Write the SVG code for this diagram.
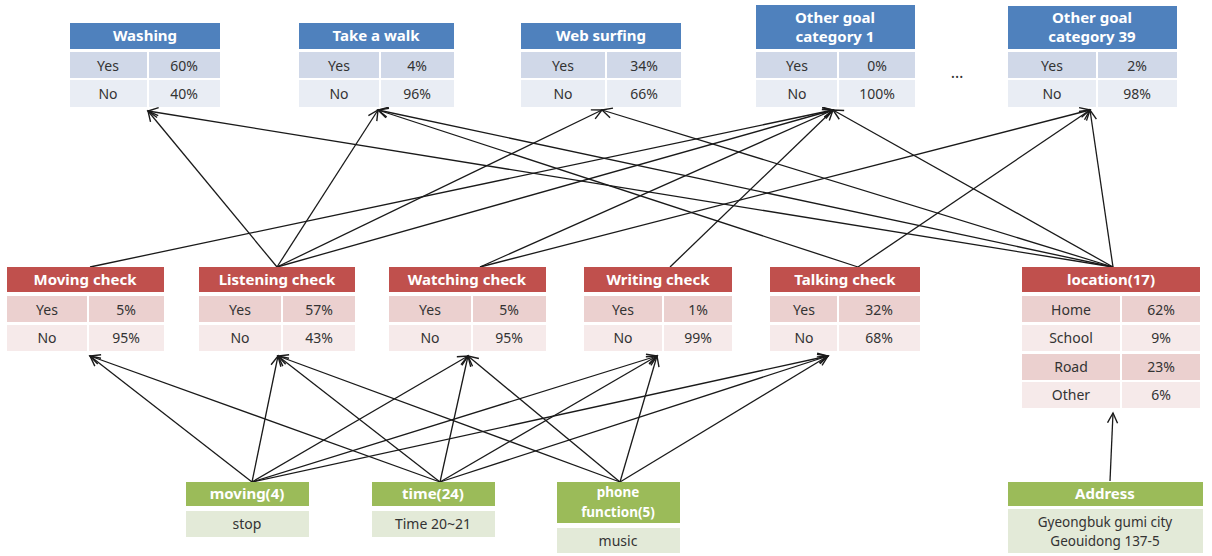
<svg xmlns="http://www.w3.org/2000/svg" width="1212" height="556" viewBox="0 0 1212 556">
<defs>
<style>
.bh{fill:#4F81BD}.by{fill:#D0D8E8}.bn{fill:#E9EDF4}
.rh{fill:#C0504D}.ry{fill:#EBD0CF}.rn{fill:#F6EAEA}
.gh{fill:#9BBB59}.gv{fill:#E3EAD8}
text{font-family:"Noto Sans","Liberation Sans",sans-serif;text-anchor:middle}
.ht{fill:#fff;font-weight:bold;font-size:15px}
.ct{fill:#333;font-size:14px}
.sm{font-size:13.5px}
.cn line{stroke:#1a1a1a;stroke-width:1.3;marker-end:url(#ah)}
</style>
<marker id="ah" markerUnits="userSpaceOnUse" markerWidth="14" markerHeight="14" refX="11" refY="6" orient="auto">
<path d="M1,1 L11,6 L1,11" fill="none" stroke="#1a1a1a" stroke-width="1.4"/>
</marker>
</defs>
<rect width="1212" height="556" fill="#fff"/>

<g class="cn" id="connectors">
<line x1="90" y1="267" x2="833" y2="110"/>
<line x1="277" y1="267" x2="148" y2="111"/>
<line x1="277" y1="267" x2="378" y2="110"/>
<line x1="277" y1="267" x2="602" y2="110"/>
<line x1="277" y1="267" x2="833" y2="110"/>
<line x1="480" y1="267" x2="833" y2="110"/>
<line x1="480" y1="267" x2="1090" y2="110"/>
<line x1="670" y1="267" x2="833" y2="110"/>
<line x1="858" y1="267" x2="378" y2="110"/>
<line x1="858" y1="267" x2="1090" y2="110"/>
<line x1="1113" y1="267" x2="148" y2="111"/>
<line x1="1113" y1="267" x2="378" y2="110"/>
<line x1="1113" y1="267" x2="602" y2="110"/>
<line x1="1113" y1="267" x2="833" y2="110"/>
<line x1="1113" y1="267" x2="1090" y2="110"/>
<line x1="252" y1="482" x2="90" y2="356"/>
<line x1="252" y1="482" x2="278" y2="356"/>
<line x1="252" y1="482" x2="468" y2="356"/>
<line x1="252" y1="482" x2="657" y2="356"/>
<line x1="252" y1="482" x2="828" y2="356"/>
<line x1="440" y1="482" x2="90" y2="356"/>
<line x1="440" y1="482" x2="278" y2="356"/>
<line x1="440" y1="482" x2="468" y2="356"/>
<line x1="440" y1="482" x2="657" y2="356"/>
<line x1="440" y1="482" x2="828" y2="356"/>
<line x1="620" y1="482" x2="278" y2="356"/>
<line x1="620" y1="482" x2="468" y2="356"/>
<line x1="620" y1="482" x2="657" y2="356"/>
<line x1="620" y1="482" x2="828" y2="356"/>
<line x1="1110" y1="481" x2="1113" y2="413"/>
</g>

<g id="washing">
<rect class="bh" x="70" y="23" width="150" height="26"/>
<text class="ht" x="145" y="41">Washing</text>
<rect class="by" x="70" y="52" width="77" height="26"/><rect class="by" x="149" y="52" width="71" height="26"/>
<rect class="bn" x="70" y="80" width="77" height="27"/><rect class="bn" x="149" y="80" width="71" height="27"/>
<text class="ct" x="108" y="71">Yes</text><text class="ct" x="184" y="71">60%</text>
<text class="ct" x="108" y="99">No</text><text class="ct" x="184" y="99">40%</text>
</g>

<g id="take-a-walk">
<rect class="bh" x="299" y="23" width="155" height="26"/>
<text class="ht" x="376" y="41">Take a walk</text>
<rect class="by" x="299" y="52" width="80" height="26"/><rect class="by" x="381" y="52" width="73" height="26"/>
<rect class="bn" x="299" y="80" width="80" height="27"/><rect class="bn" x="381" y="80" width="73" height="27"/>
<text class="ct" x="339" y="71">Yes</text><text class="ct" x="417" y="71">4%</text>
<text class="ct" x="339" y="99">No</text><text class="ct" x="417" y="99">96%</text>
</g>

<g id="web-surfing">
<rect class="bh" x="521" y="23" width="160" height="26"/>
<text class="ht" x="601" y="41">Web surfing</text>
<rect class="by" x="521" y="52" width="84" height="26"/><rect class="by" x="607" y="52" width="74" height="26"/>
<rect class="bn" x="521" y="80" width="84" height="27"/><rect class="bn" x="607" y="80" width="74" height="27"/>
<text class="ct" x="563" y="71">Yes</text><text class="ct" x="644" y="71">34%</text>
<text class="ct" x="563" y="99">No</text><text class="ct" x="644" y="99">66%</text>
</g>

<g id="other-goal-1">
<rect class="bh" x="756" y="5" width="159" height="44"/>
<text class="ht" x="835" y="23">Other goal</text>
<text class="ht" x="835" y="42">category 1</text>
<rect class="by" x="756" y="52" width="81" height="26"/><rect class="by" x="839" y="52" width="76" height="26"/>
<rect class="bn" x="756" y="80" width="81" height="27"/><rect class="bn" x="839" y="80" width="76" height="27"/>
<text class="ct" x="797" y="71">Yes</text><text class="ct" x="877" y="71">0%</text>
<text class="ct" x="797" y="99">No</text><text class="ct" x="877" y="99">100%</text>
</g>

<text class="ct" x="957" y="78" style="font-size:16px">…</text>

<g id="other-goal-39">
<rect class="bh" x="1008" y="6" width="169" height="43"/>
<text class="ht" x="1092" y="23">Other goal</text>
<text class="ht" x="1092" y="42">category 39</text>
<rect class="by" x="1008" y="52" width="88" height="26"/><rect class="by" x="1098" y="52" width="79" height="26"/>
<rect class="bn" x="1008" y="80" width="88" height="27"/><rect class="bn" x="1098" y="80" width="79" height="27"/>
<text class="ct" x="1052" y="71">Yes</text><text class="ct" x="1137" y="71">2%</text>
<text class="ct" x="1052" y="99">No</text><text class="ct" x="1137" y="99">98%</text>
</g>

<g id="moving-check">
<rect class="rh" x="7" y="267" width="157" height="25"/>
<text class="ht" x="85" y="285">Moving check</text>
<rect class="ry" x="7" y="296" width="80" height="26"/><rect class="ry" x="89" y="296" width="75" height="26"/>
<rect class="rn" x="7" y="325" width="80" height="26"/><rect class="rn" x="89" y="325" width="75" height="26"/>
<text class="ct" x="47" y="315">Yes</text><text class="ct" x="126" y="315">5%</text>
<text class="ct" x="47" y="343">No</text><text class="ct" x="126" y="343">95%</text>
</g>

<g id="listening-check">
<rect class="rh" x="199" y="267" width="156" height="25"/>
<text class="ht" x="277" y="285">Listening check</text>
<rect class="ry" x="199" y="296" width="82" height="26"/><rect class="ry" x="283" y="296" width="72" height="26"/>
<rect class="rn" x="199" y="325" width="82" height="26"/><rect class="rn" x="283" y="325" width="72" height="26"/>
<text class="ct" x="240" y="315">Yes</text><text class="ct" x="319" y="315">57%</text>
<text class="ct" x="240" y="343">No</text><text class="ct" x="319" y="343">43%</text>
</g>

<g id="watching-check">
<rect class="rh" x="389" y="267" width="157" height="25"/>
<text class="ht" x="467" y="285">Watching check</text>
<rect class="ry" x="389" y="296" width="82" height="26"/><rect class="ry" x="473" y="296" width="73" height="26"/>
<rect class="rn" x="389" y="325" width="82" height="26"/><rect class="rn" x="473" y="325" width="73" height="26"/>
<text class="ct" x="430" y="315">Yes</text><text class="ct" x="509" y="315">5%</text>
<text class="ct" x="430" y="343">No</text><text class="ct" x="509" y="343">95%</text>
</g>

<g id="writing-check">
<rect class="rh" x="584" y="267" width="148" height="25"/>
<text class="ht" x="658" y="285">Writing check</text>
<rect class="ry" x="584" y="296" width="78" height="26"/><rect class="ry" x="664" y="296" width="68" height="26"/>
<rect class="rn" x="584" y="325" width="78" height="26"/><rect class="rn" x="664" y="325" width="68" height="26"/>
<text class="ct" x="623" y="315">Yes</text><text class="ct" x="698" y="315">1%</text>
<text class="ct" x="623" y="343">No</text><text class="ct" x="698" y="343">99%</text>
</g>

<g id="talking-check">
<rect class="rh" x="770" y="267" width="150" height="25"/>
<text class="ht" x="845" y="285">Talking check</text>
<rect class="ry" x="770" y="296" width="67" height="26"/><rect class="ry" x="839" y="296" width="81" height="26"/>
<rect class="rn" x="770" y="325" width="67" height="26"/><rect class="rn" x="839" y="325" width="81" height="26"/>
<text class="ct" x="804" y="315">Yes</text><text class="ct" x="879" y="315">32%</text>
<text class="ct" x="804" y="343">No</text><text class="ct" x="879" y="343">68%</text>
</g>

<g id="location">
<rect class="rh" x="1022" y="267" width="178" height="25"/>
<text class="ht" x="1111" y="285">location(17)</text>
<rect class="ry" x="1022" y="296" width="98" height="26"/><rect class="ry" x="1122" y="296" width="78" height="26"/>
<rect class="rn" x="1022" y="325" width="98" height="26"/><rect class="rn" x="1122" y="325" width="78" height="26"/>
<rect class="ry" x="1022" y="354" width="98" height="26"/><rect class="ry" x="1122" y="354" width="78" height="26"/>
<rect class="rn" x="1022" y="382" width="98" height="26"/><rect class="rn" x="1122" y="382" width="78" height="26"/>
<text class="ct" x="1071" y="315">Home</text><text class="ct" x="1161" y="315">62%</text>
<text class="ct" x="1071" y="343">School</text><text class="ct" x="1161" y="343">9%</text>
<text class="ct" x="1071" y="372">Road</text><text class="ct" x="1161" y="372">23%</text>
<text class="ct" x="1071" y="400">Other</text><text class="ct" x="1161" y="400">6%</text>
</g>

<g id="moving">
<rect class="gh" x="186" y="482" width="123" height="24"/>
<text class="ht" x="247" y="499">moving(4)</text>
<rect class="gv" x="186" y="511" width="123" height="26"/>
<text class="ct" x="247" y="529">stop</text>
</g>

<g id="time">
<rect class="gh" x="372" y="482" width="123" height="24"/>
<text class="ht" x="433" y="499">time(24)</text>
<rect class="gv" x="372" y="511" width="123" height="26"/>
<text class="ct" x="433" y="529">Time 20~21</text>
</g>

<g id="phone-function">
<rect class="gh" x="557" y="482" width="123" height="41"/>
<text class="ht sm" x="618" y="497">phone</text>
<text class="ht sm" x="618" y="517">function(5)</text>
<rect class="gv" x="557" y="528" width="123" height="25"/>
<text class="ct" x="618" y="546">music</text>
</g>

<g id="address">
<rect class="gh" x="1008" y="482" width="195" height="24"/>
<text class="ht" x="1105" y="499">Address</text>
<rect class="gv" x="1008" y="509" width="195" height="44"/>
<text class="ct sm" x="1105" y="527">Gyeongbuk gumi city</text>
<text class="ct sm" x="1105" y="546">Geouidong 137-5</text>
</g>
</svg>
